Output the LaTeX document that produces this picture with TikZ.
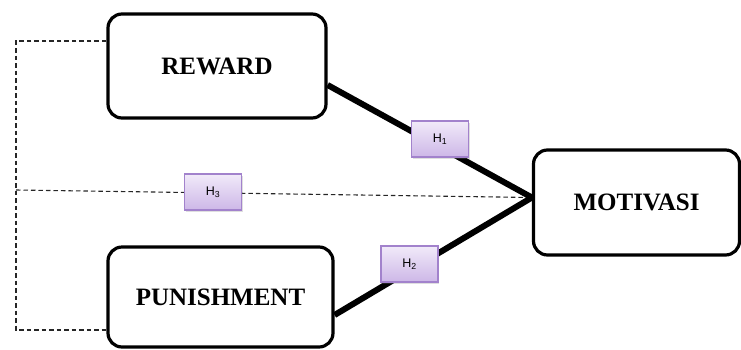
\documentclass[tikz,border=0pt]{standalone}
\usepackage{fontspec}
\setmainfont{Liberation Serif}
\newfontfamily\hfont{Liberation Sans}
\usetikzlibrary{calc,shadows}
\definecolor{hlight}{HTML}{F1EAF9}
\definecolor{hdark}{HTML}{CDB7E7}
\definecolor{hedge}{HTML}{A282CC}

\begin{document}
\begin{tikzpicture}[x=1pt,y=-1pt,
  varbox/.style={draw,line width=3.2pt,rounded corners=14pt,
    font=\fontsize{25}{28}\selectfont\bfseries},
  hbox/.style={draw=hedge,line width=1.2pt,top color=hlight,bottom color=hdark,
    minimum width=57pt,minimum height=36pt,inner sep=0pt,
    font=\hfont\fontsize{12.5}{14}\selectfont,
    drop shadow={opacity=0.25,shadow xshift=1pt,shadow yshift=-2pt}},
  path/.style={line width=6pt},
  dashline/.style={draw=black!85,line width=1.1pt,dash pattern=on 4.5pt off 3pt}]
\useasboundingbox (0,0) rectangle (741,349);
\node[varbox,minimum width=218pt,minimum height=104pt] (reward) at (217,66) {REWARD};
\node[varbox,minimum width=225pt,minimum height=100pt] (punishment) at (220.5,297) {PUNISHMENT};
\node[varbox,minimum width=206pt,minimum height=105pt] (motivasi) at (636.5,202.5) {MOTIVASI};
\coordinate (brtop) at (16,41);
\coordinate (brmid) at (16,190);
\coordinate (brbot) at (16,330);
\draw[dashline] (reward.west |- brtop) -- (brtop) -- (brbot) -- (punishment.west |- brbot);
\draw[dashline] (brmid) -- ([yshift=5pt]motivasi.west);
\draw[path] ([yshift=-19pt]reward.east) -- ([yshift=5pt]motivasi.west);
\draw[path] ([yshift=-18pt]punishment.east) -- ([yshift=5pt]motivasi.west);
\node[hbox] (h1) at (440,139) {H\textsubscript{1}};
\node[hbox] (h2) at (409.5,264) {H\textsubscript{2}};
\node[hbox] (h3) at (213,192) {H\textsubscript{3}};
\end{tikzpicture}
\end{document}
